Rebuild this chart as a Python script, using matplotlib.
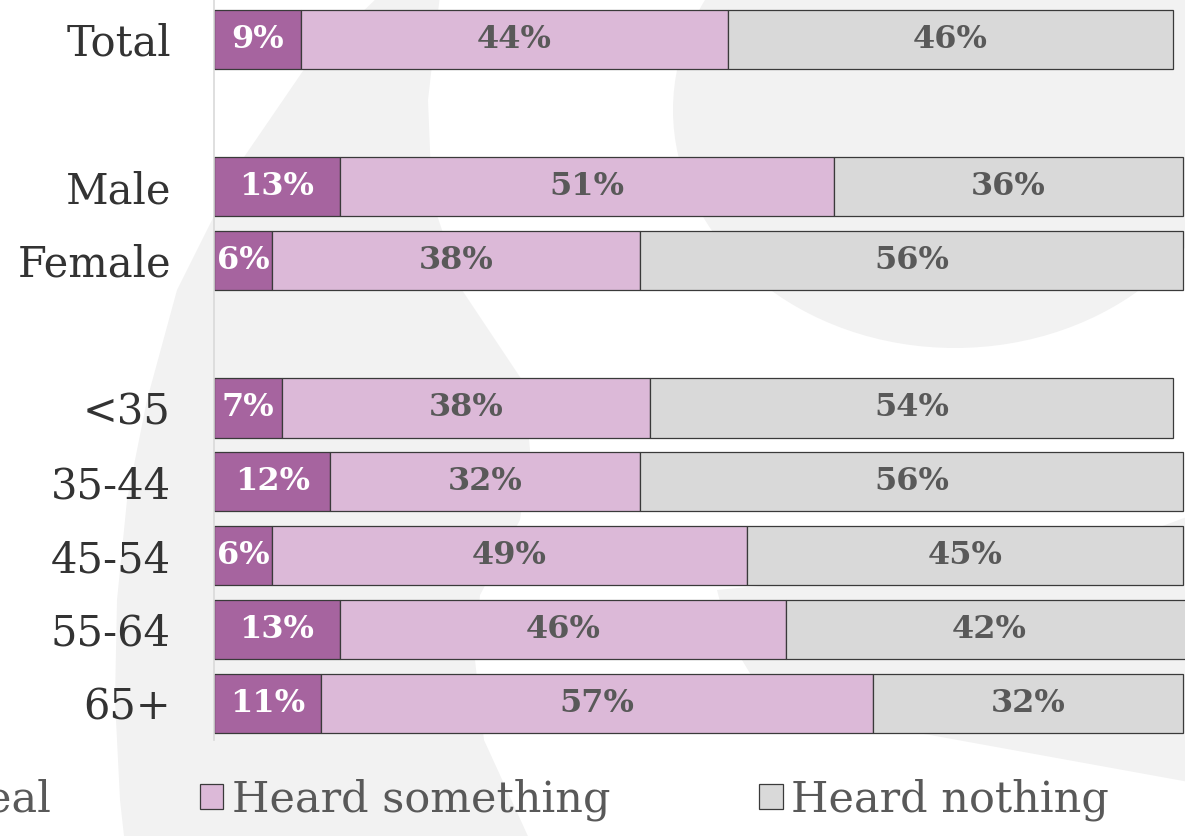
import matplotlib
matplotlib.use("Agg")
import matplotlib.pyplot as plt
from matplotlib.patches import Polygon, Ellipse

# data
groups = ["Total", "Male", "Female", "<35", "35-44", "45-54", "55-64", "65+"]
great_deal = [9, 13, 6, 7, 12, 6, 13, 11]
heard_something = [44, 51, 38, 38, 32, 49, 46, 57]
heard_nothing = [46, 36, 56, 54, 56, 45, 42, 32]
series_names = ["Heard a great deal", "Heard something", "Heard nothing"]

# layout: blank rows between Total / gender / age blocks
rows = [0, 2, 3, 5, 6, 7, 8, 9]
colors = ["#a6649f", "#dcb9d8", "#d9d9d9"]
label_colors = ["white", "#595959", "#595959"]
edge = "#3a3a3a"
serif = "DejaVu Serif"

W, H = 1185, 836
fig = plt.figure(figsize=(W / 100, H / 100), dpi=100)
fig.patch.set_facecolor("white")


def px(points):
    return [(x / W, 1 - y / H) for x, y in points]


# faint watermark shapes behind the chart
wm = "#f2f2f2"
left_band = [(380, -5), (307, 65), (242, 160), (177, 290), (147, 400), (127, 500),
             (117, 600), (115, 700), (120, 800), (125, 845),
             (532, 845), (484, 740), (475, 660), (480, 595), (520, 520), (530, 450),
             (524, 383), (462, 290), (432, 200), (428, 100), (440, -5)]
lower_right = [(1200, 512), (1050, 568), (900, 580), (780, 584), (717, 590), (730, 640),
               (760, 690), (840, 720), (930, 735), (1200, 784)]
for pts in (left_band, lower_right):
    fig.add_artist(Polygon(px(pts), closed=True, facecolor=wm, edgecolor="none",
                           transform=fig.transFigure, zorder=-10))
fig.add_artist(Ellipse((955 / W, 1 - 110 / H), 564 / W, 476 / H, facecolor=wm,
                       edgecolor="none", transform=fig.transFigure, zorder=-10))

ax = fig.add_axes([214 / W, 1 - 740 / H, 983.5 / W, 740 / H])
ax.set_facecolor("none")

left = [0] * len(groups)
containers = []
for vals, name, col, tcol in zip([great_deal, heard_something, heard_nothing],
                                 series_names, colors, label_colors):
    bars = ax.barh(rows, vals, left=left, height=0.8, color=col, edgecolor=edge,
                   linewidth=0.9, label=name)
    ax.bar_label(bars, labels=[f"{v}%" for v in vals], label_type="center",
                 color=tcol, fontsize=23, fontweight="bold", family=serif)
    containers.append(bars)
    left = [a + b for a, b in zip(left, vals)]

ax.set_xlim(0, 101.5)
ax.set_ylim(9.5, -0.53)
ax.set_xticks([])
ax.set_yticks(rows, groups)
ax.tick_params(axis="y", length=0, pad=31, labelsize=30, labelcolor="#333333")
for lab in ax.get_yticklabels():
    lab.set_family(serif)
for s in ["top", "right", "bottom"]:
    ax.spines[s].set_visible(False)
ax.spines["left"].set_color("#d9d9d9")
ax.spines["left"].set_linewidth(1.2)

# legend runs off the left edge, as in the reference crop
fig.legend(handles=containers, labels=series_names, ncol=3, loc="center",
           bbox_to_anchor=(358 / W, 1 - 800 / H), frameon=False,
           prop={"family": serif, "size": 31}, labelcolor="#595959",
           handlelength=0.55, handleheight=0.55, handletextpad=0.2,
           columnspacing=3.45, borderpad=0)

fig.savefig("out.png", dpi=100)
